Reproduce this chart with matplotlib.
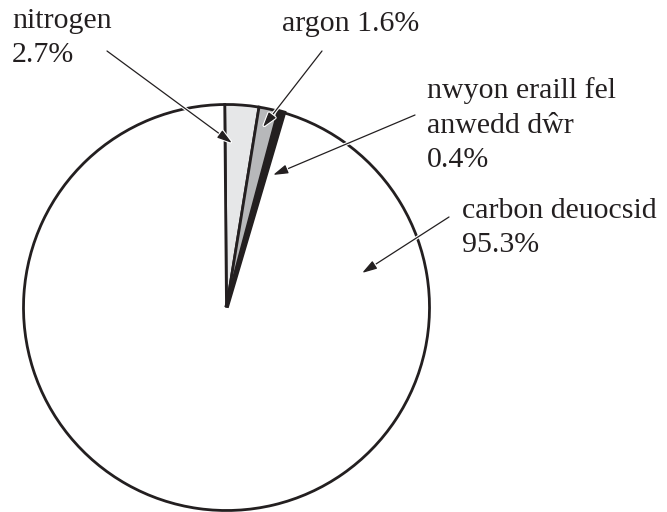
import matplotlib
matplotlib.use('Agg')
import matplotlib.pyplot as plt
import matplotlib.patheffects as pe

# composition of the atmosphere (percent)
labels = ['nitrogen\n2.7%', 'argon 1.6%', 'nwyon eraill fel\nanwedd dŵr\n0.4%', 'carbon deuocsid\n95.3%']
values = [2.7, 1.6, 0.4, 95.3]
colors = ['#e6e7e8', '#b7b8ba', '#231f20', '#ffffff']

W, H = 667, 512
ink = '#231f20'

# label anchor (left, baseline of last line) and arrow (tail, tip), pixels from top-left
text_pos = [(12, 62), (282, 31), (427, 167), (462, 252)]
arrows = [((107, 51), (232, 143)),
          ((322, 51), (263, 127)),
          ((415, 115), (273, 175)),
          ((449, 217), (362, 273))]


def px(x, y):
    return (x, H - y)


fig = plt.figure(figsize=(W / 100, H / 100), dpi=100)
ax = fig.add_axes([0, 0, 1, 1])

wedges, _ = ax.pie(values, colors=colors, startangle=90.5, counterclock=False,
                   center=px(226.5, 307.5), radius=203,
                   wedgeprops=dict(edgecolor=ink, linewidth=2.0))
# thin black slice is drawn a bit heavier in the original
wedges[2].set_linewidth(3.2)
wedges[2].set_zorder(wedges[2].get_zorder() + 0.1)

ax.set_xlim(0, W)
ax.set_ylim(0, H)
ax.set_aspect('equal')
ax.axis('off')

for lab, (tx, ty), (tail, tip) in zip(labels, text_pos, arrows):
    ax.text(*px(tx, ty), lab, family='Liberation Serif', fontsize=21.5,
            color=ink, ha='left', va='baseline', linespacing=1.42)
    ax.annotate('', xy=px(*tip), xytext=px(*tail),
                arrowprops=dict(arrowstyle='-|>,head_length=0.5,head_width=0.15',
                                mutation_scale=18, color=ink, lw=0.9,
                                shrinkA=0, shrinkB=0,
                                path_effects=[pe.withStroke(linewidth=2.5, foreground='white')]))

fig.savefig('out.png', dpi=100)
